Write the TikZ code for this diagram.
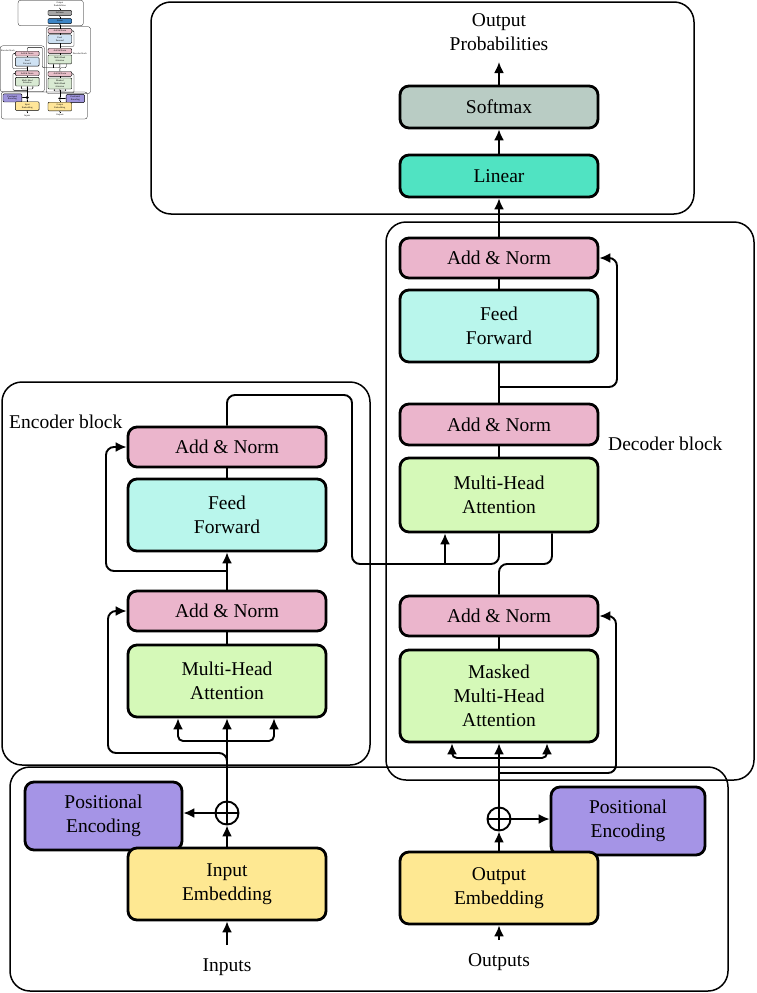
\documentclass[tikz,border=0pt]{standalone}
\usepackage{fontspec}
\setmainfont{Liberation Serif}
\usetikzlibrary{arrows.meta,calc}
\definecolor{anpink}{HTML}{EBB5CC}
\definecolor{ffcyan}{HTML}{B9F6EC}
\definecolor{mhagreen}{HTML}{D5F9B8}
\definecolor{smgray}{HTML}{B9CCC4}
\definecolor{linteal}{HTML}{50E3C2}
\definecolor{pepurple}{HTML}{A594E6}
\definecolor{embyellow}{HTML}{FEE892}
\newcommand\dfont{\fontsize{19.5}{24}\selectfont}
\newcommand\xdiagram{%
 \draw[frame] (151,2) rectangle (694,214);
 \draw[frame] (2,382) rectangle (370,765);
 \draw[frame] (386,222) rectangle (754,780);
 \draw[frame] (10,767) rectangle (728,991);
 % top
 \node[box, fill=cSM, minimum height=42pt] (softmax) at (499,107) {Softmax};
 \node[box, fill=cLIN, minimum height=42pt] (linear) at (499,176) {Linear};
 \node[lbl, align=center] (outprob) at (499,32) {Output\\Probabilities};
 \coordinate (optip) at (499,62);
 % decoder
 \node[box, fill=cAN, minimum height=40pt] (dAN3) at (499,258) {Add \& Norm};
 \node[box, fill=cFF, minimum height=72pt] (dFF) at (499,326) {Feed\\Forward};
 \node[box, fill=cAN, minimum height=41pt] (dAN2) at (499,424.5) {Add \& Norm};
 \node[box, fill=cMHA, minimum height=74pt] (dMHA) at (499,495) {Multi-Head\\Attention};
 \node[box, fill=cAN, minimum height=40pt] (dAN1) at (499,616) {Add \& Norm};
 \node[box, fill=cMHA, minimum height=92pt] (dMMHA) at (499,696) {Masked\\Multi-Head\\Attention};
 \node[lbl, anchor=west] (declbl) at (608,444) {Decoder block};
 % encoder
 \node[box, fill=cAN, minimum height=40pt] (eAN2) at (227,447) {Add \& Norm};
 \node[box, fill=cFF, minimum height=72pt] (eFF) at (227,515) {Feed\\Forward};
 \node[box, fill=cAN, minimum height=40pt] (eAN1) at (227,611) {Add \& Norm};
 \node[box, fill=cMHA, minimum height=72pt] (eMHA) at (227,681) {Multi-Head\\Attention};
 \node[lbl, anchor=west] (enclbl) at (9,422) {Encoder block};
 % bottom
 \node[box, fill=cPE, minimum width=157pt, minimum height=68pt] (lPE) at (103.5,816) {Positional\\Encoding};
 \node[box, fill=cEMB, minimum height=72pt] (IE) at (227,884) {Input\\Embedding};
 \node[plus] (plus1) at (227,813) {};
 \node[box, fill=cPE, minimum width=154pt, minimum height=68pt] (rPE) at (628,821) {Positional\\Encoding};
 \node[box, fill=cEMB, minimum height=72pt] (OE) at (499,888) {Output\\Embedding};
 \node[plus] (plus2) at (499,819) {};
 \node[lbl] (inputs) at (227,967) {Inputs};
 \node[lbl] (outputs) at (499,962) {Outputs};
 \coordinate (inarr) at (227,945);
 \coordinate (outarr) at (499,940);
 % top connections
 \draw[arr] (dAN3.north) -- (linear.south);
 \draw[arr] (linear.north) -- (softmax.south);
 \draw[arr] (softmax.north) -- (optip);
 % decoder connections
 \draw[conn] (dFF.north) -- (dAN3.south);
 \draw[conn] (dAN2.north) -- (dFF.south);
 \coordinate (dres2) at (499,387);
 \draw[arr] (dres2) -- (617,387) -- (617,258) -- (dAN3.east);
 \draw[conn] (dMHA.north) -- (dAN2.south);
 \coordinate (encbr) at (445,564);
 \draw[conn] (eAN2.north) -- (227,395) -- (352,395) -- (352,564) -- (499,564) -- (dMHA.south);
 \draw[arr] (encbr) -- (encbr |- dMHA.south);
 \draw[conn] (dAN1.north) -- (499,564) -- (552,564) -- ($(dMHA.south)+(53,0)$);
 \draw[conn] (dMMHA.north) -- (dAN1.south);
 \draw[arr] (plus2.north) -- (dMMHA.south);
 \coordinate (dres1) at (499,773);
 \draw[arr] (dres1) -- (616,773) -- (616,616) -- (dAN1.east);
 \coordinate (dfan) at (499,758);
 \draw[arr, rounded corners=\rcsmall] (dfan) -| ($(dMMHA.south)+(-47,0)$);
 \draw[arr, rounded corners=\rcsmall] (dfan) -| ($(dMMHA.south)+(48,0)$);
 % encoder connections
 \draw[conn] (eFF.north) -- (eAN2.south);
 \draw[arr] (eAN1.north) -- (eFF.south);
 \coordinate (eres2) at (227,571);
 \draw[arr] (eres2) -- (106,571) -- (106,447) -- (eAN2.west);
 \draw[conn] (eMHA.north) -- (eAN1.south);
 \coordinate (eres1) at (227,763);
 \draw[arr] (eres1) -- (227,753) -- (108,753) -- (108,611) -- (eAN1.west);
 \draw[arr] (plus1.north) -- (eMHA.south);
 \coordinate (efan) at (227,741);
 \draw[arr, rounded corners=\rcsmall] (efan) -| ($(eMHA.south)+(-49,0)$);
 \draw[arr, rounded corners=\rcsmall] (efan) -| ($(eMHA.south)+(47,0)$);
 % bottom connections
 \draw[arr] (IE.north) -- (plus1.south);
 \draw[arr] (plus1.west) -- (plus1.west -| lPE.east);
 \draw[arr] (inarr) -- (IE.south);
 \draw[arr] (OE.north) -- (plus2.south);
 \draw[arr] (plus2.east) -- (plus2.east -| rPE.west);
 \draw[arr] (outarr) -- (OE.south);
}
\begin{document}
\begin{tikzpicture}[x=1pt,y=-1pt,
  frame/.style={line width=\lwframe, rounded corners=\rcframe},
  box/.style={draw, line width=\lwbox, rounded corners=\rcbox, minimum width=198pt, align=center, inner sep=0pt, font=\dfont},
  lbl/.style={inner sep=0pt, font=\dfont},
  conn/.style={line width=\lwconn, rounded corners=\rcconn},
  arr/.style={conn, -{Latex[length=\alen,width=\awid]}},
  plus/.style={circle, draw, line width=\lwconn, minimum size=23pt, inner sep=0pt,
    path picture={\draw[line width=\lwconn] (path picture bounding box.north) -- (path picture bounding box.south) (path picture bounding box.west) -- (path picture bounding box.east);}}]
\useasboundingbox (0,0) rectangle (756,993);
\begin{scope}
 \def\lwbox{2.8pt}\def\lwconn{1.9pt}\def\lwframe{1.5pt}
 \def\rcbox{9pt}\def\rcconn{8pt}\def\rcsmall{5pt}\def\rcframe{20pt}
 \def\alen{11pt}\def\awid{10pt}
 \colorlet{cAN}{anpink}\colorlet{cFF}{ffcyan}\colorlet{cMHA}{mhagreen}
 \colorlet{cSM}{smgray}\colorlet{cLIN}{linteal}\colorlet{cPE}{pepurple}\colorlet{cEMB}{embyellow}
 \xdiagram
\end{scope}
\begin{scope}[scale=0.12, transform shape, name prefix=t-]
 \def\lwbox{0.4pt}\def\lwconn{0.3pt}\def\lwframe{0.25pt}
 \def\rcbox{1pt}\def\rcconn{1pt}\def\rcsmall{0.6pt}\def\rcframe{2.4pt}
 \def\alen{1.3pt}\def\awid{1.1pt}
 \definecolor{cAN}{HTML}{E8BFC9}\definecolor{cFF}{HTML}{CFE2F3}\definecolor{cMHA}{HTML}{D9EAD3}
 \definecolor{cSM}{HTML}{A6A6A6}\definecolor{cLIN}{HTML}{3D85C6}\definecolor{cPE}{HTML}{9E94DB}\definecolor{cEMB}{HTML}{FFE699}
 \xdiagram
\end{scope}
\end{tikzpicture}
\end{document}
